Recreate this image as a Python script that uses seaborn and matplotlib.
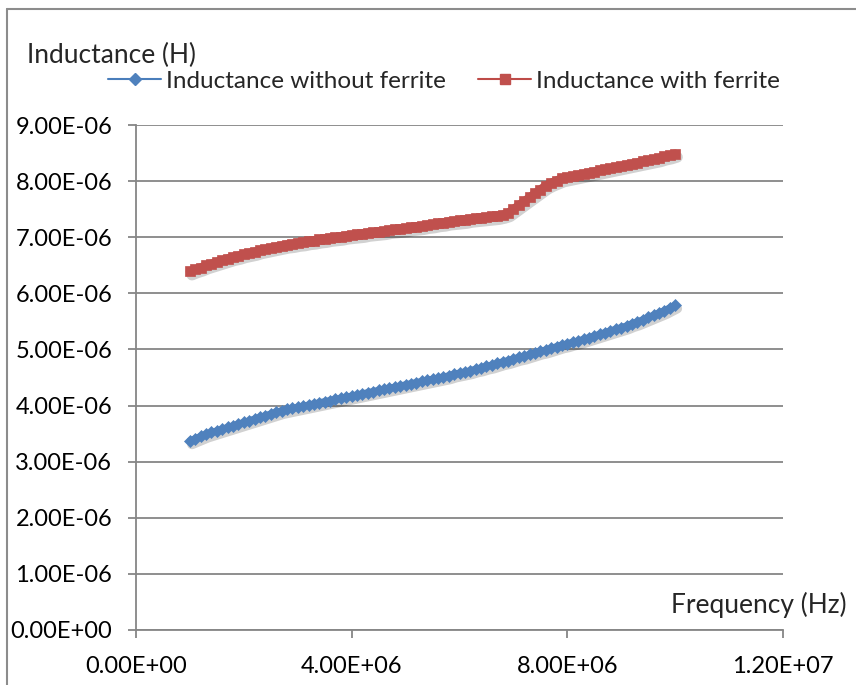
import numpy as np
import pandas as pd
import matplotlib
matplotlib.use("Agg")
import matplotlib.pyplot as plt
import matplotlib.transforms as mtransforms
from matplotlib.lines import Line2D
import seaborn as sns

# Data (frequency sweep 1 MHz .. 10 MHz, step 0.1 MHz)
freq_hz = np.linspace(1e6, 1e7, 91)

l_without_uh = [
    3.37, 3.41, 3.45, 3.49, 3.52, 3.55, 3.58, 3.61, 3.64, 3.67,
    3.70, 3.73, 3.76, 3.79, 3.82, 3.85, 3.88, 3.91, 3.93, 3.95,
    3.97, 3.99, 4.01, 4.03, 4.05, 4.07, 4.09, 4.11, 4.13, 4.15,
    4.17, 4.19, 4.21, 4.23, 4.25, 4.27, 4.29, 4.31, 4.33, 4.35,
    4.37, 4.39, 4.41, 4.43, 4.45, 4.47, 4.49, 4.51, 4.53, 4.56,
    4.58, 4.60, 4.62, 4.65, 4.67, 4.70, 4.72, 4.75, 4.78, 4.80,
    4.83, 4.86, 4.88, 4.91, 4.94, 4.97, 4.99, 5.02, 5.05, 5.08,
    5.10, 5.13, 5.15, 5.18, 5.21, 5.24, 5.27, 5.30, 5.33, 5.36,
    5.39, 5.42, 5.46, 5.49, 5.53, 5.57, 5.61, 5.65, 5.69, 5.74,
    5.79,
]

l_with_uh = [
    6.39, 6.43, 6.46, 6.50, 6.53, 6.56, 6.59, 6.62, 6.65, 6.67,
    6.70, 6.72, 6.74, 6.77, 6.79, 6.81, 6.83, 6.85, 6.87, 6.88,
    6.90, 6.91, 6.93, 6.94, 6.96, 6.97, 6.99, 7.00, 7.01, 7.03,
    7.04, 7.05, 7.06, 7.08, 7.09, 7.10, 7.11, 7.13, 7.14, 7.15,
    7.16, 7.18, 7.19, 7.20, 7.22, 7.23, 7.25, 7.26, 7.28, 7.29,
    7.30, 7.31, 7.33, 7.34, 7.35, 7.36, 7.37, 7.38, 7.40, 7.43,
    7.50, 7.57, 7.64, 7.71, 7.78, 7.85, 7.92, 7.97, 8.01, 8.05,
    8.07, 8.09, 8.11, 8.13, 8.15, 8.17, 8.19, 8.21, 8.23, 8.25,
    8.27, 8.29, 8.31, 8.33, 8.35, 8.37, 8.39, 8.41, 8.44, 8.46,
    8.49,
]

series_names = ["Inductance without ferrite", "Inductance with ferrite"]
x_ticks = [0, 4e6, 8e6, 1.2e7]
x_ticklabels = ["0.00E+00", "4.00E+06", "8.00E+06", "1.20E+07"]
y_ticks = [i * 1e-6 for i in range(10)]
y_ticklabels = ["%.2fE%s" % (i, "+00" if i == 0 else "-06") for i in range(10)]

df = pd.DataFrame({
    "freq": np.concatenate([freq_hz, freq_hz]),
    "L": np.concatenate([np.array(l_without_uh), np.array(l_with_uh)]) * 1e-6,
    "series": [series_names[0]] * len(freq_hz) + [series_names[1]] * len(freq_hz),
})

sns.set_style("white")
plt.rcParams["font.family"] = ["Lato", "DejaVu Sans"]

fig = plt.figure(figsize=(8.56, 6.85), dpi=100)
ax = fig.add_axes([136 / 856, 1 - 630 / 685, (783 - 136) / 856, (630 - 125) / 685])

grid_c = "#868686"
styles = {
    series_names[0]: dict(marker="D", ms=6.5, color="#4A7EBB", mfc="#4F81BD", mec="#4F81BD", lw=5),
    series_names[1]: dict(marker="s", ms=7.5, color="#BE4B48", mfc="#C0504D", mec="#C0504D", lw=6),
}

# soft drop shadow like Excel
shadow = mtransforms.offset_copy(ax.transData, fig=fig, x=1.5, y=-2.5, units="points")
for name in series_names:
    sub = df[df["series"] == name]
    st = styles[name]
    sns.lineplot(data=sub, x="freq", y="L", ax=ax, marker=None,
                 color="#000000", linewidth=st["lw"] + 2,
                 alpha=0.18, transform=shadow, legend=False, zorder=2)
for name in series_names:
    sub = df[df["series"] == name]
    st = styles[name]
    sns.lineplot(data=sub, x="freq", y="L", ax=ax, marker=st["marker"], markersize=st["ms"],
                 color=st["color"], markerfacecolor=st["mfc"], markeredgecolor=st["mec"],
                 markeredgewidth=0.5, linewidth=st["lw"], legend=False, zorder=3)

ax.set_xlim(0, 1.2e7)
ax.set_ylim(0, 9e-6)
ax.set_xticks(x_ticks)
ax.set_xticklabels(x_ticklabels)
ax.set_yticks(y_ticks)
ax.set_yticklabels(y_ticklabels)
ax.set_xlabel("")
ax.set_ylabel("")
ax.yaxis.grid(True, color=grid_c, linewidth=1.3)
ax.xaxis.grid(False)
ax.set_axisbelow(True)
for s in ["top", "right"]:
    ax.spines[s].set_visible(False)
for s in ["left", "bottom"]:
    ax.spines[s].set_color(grid_c)
    ax.spines[s].set_linewidth(1.3)
ax.tick_params(axis="both", direction="out", length=6, width=1.3, color=grid_c,
               labelsize=17, labelcolor="black")
ax.tick_params(axis="y", pad=11)
ax.tick_params(axis="x", pad=13)
ax.tick_params(left=True, bottom=True)

fig.text(27 / 856, 1 - 55 / 685, "Inductance (H)", fontsize=19, ha="left", va="center")
fig.text(847 / 856, 1 - 605 / 685, "Frequency (Hz)", fontsize=19, ha="right", va="center")

handles = [
    Line2D([], [], color=styles[n]["color"], lw=1.5, marker=styles[n]["marker"],
           ms=styles[n]["ms"] - 0.5, mfc=styles[n]["mfc"], mec=styles[n]["mec"])
    for n in series_names
]
fig.legend(handles, series_names, loc="center left", bbox_to_anchor=(108 / 856, 1 - 81 / 685),
           ncol=2, frameon=False, fontsize=17.5, handlelength=2.2, handletextpad=0.2,
           columnspacing=1.3, numpoints=1, borderaxespad=0, borderpad=0)

# chart frame (only top and left edges are visible in the reference)
fig.add_artist(Line2D([7 / 856, 1], [1 - 9 / 685, 1 - 9 / 685], transform=fig.transFigure,
                      color="#8c8c8c", lw=1.5))
fig.add_artist(Line2D([7 / 856, 7 / 856], [0, 1 - 9 / 685], transform=fig.transFigure,
                      color="#8c8c8c", lw=1.5))

fig.savefig("out.png", dpi=100, facecolor="white")
